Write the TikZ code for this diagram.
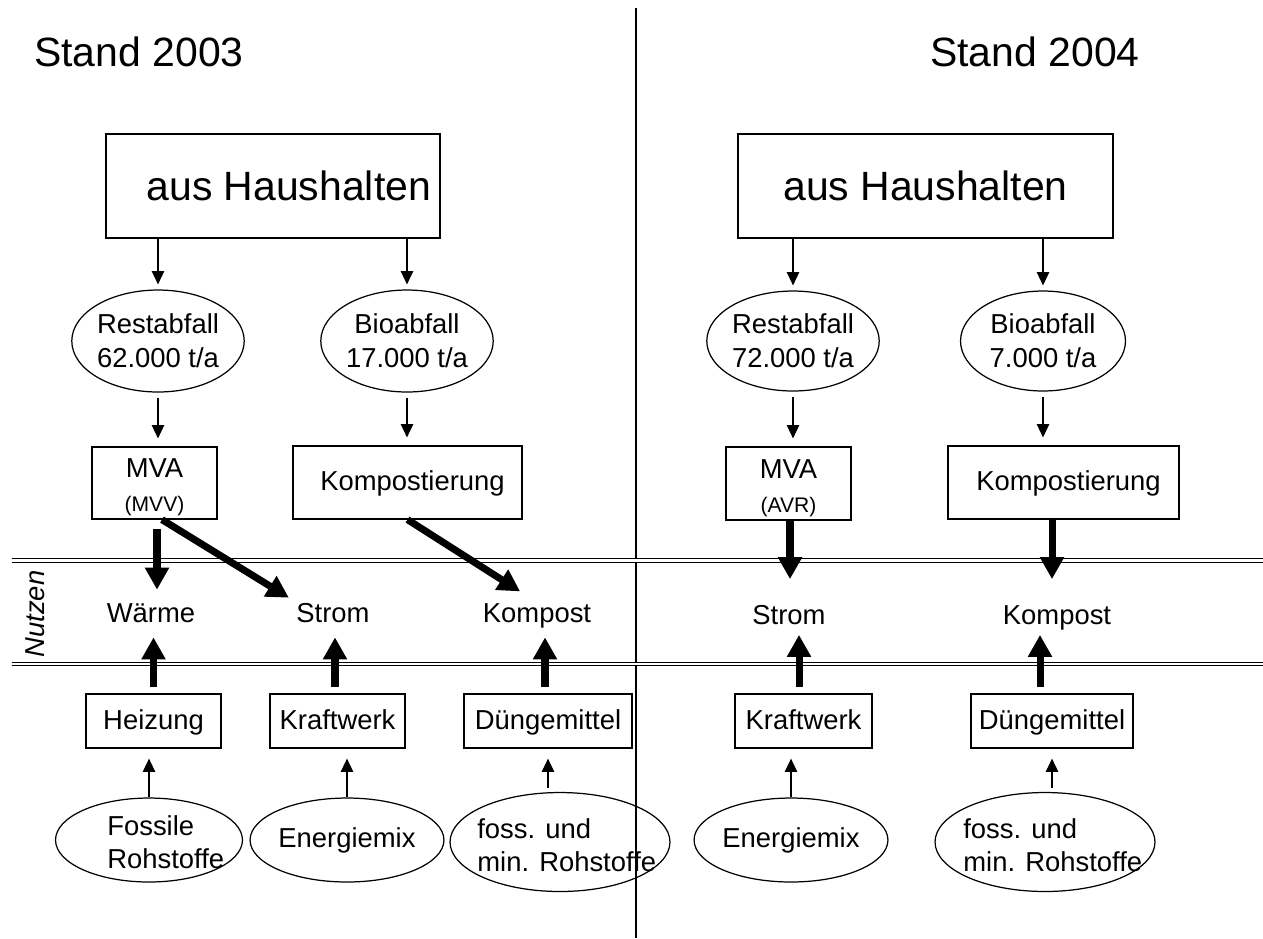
\documentclass[tikz,border=0pt]{standalone}
\usepackage{fontspec}
\setmainfont{Liberation Sans}
\usetikzlibrary{shapes.geometric, arrows.meta}

\begin{document}
\begin{tikzpicture}[x = 0.02cm, y = -0.02cm,
  big/.style = {font = \fontsize{23.3}{28}\selectfont},
  box/.style = {draw, line width = 0.7pt, inner sep = 0pt, align = center, font = \fontsize{15.6}{19.3}\selectfont},
  onebox/.style = {box, text height = 12pt, text depth = 2.6pt},
  oval/.style = {draw, ellipse, line width = 0.7pt, inner sep = 0pt, align = center, font = \fontsize{15.6}{19.3}\selectfont},
  ovaltext/.style = {anchor = west, inner sep = 0pt, align = left, font = \fontsize{15.6}{18.5}\selectfont},
  nutzen/.style = {inner sep = 0pt, text height = 0.4cm, text depth = 0.12cm, font = \fontsize{15.6}{19.3}\selectfont},
  flow/.style = {line width = 0.7pt, -{Triangle[width = 7pt, length = 7.5pt]}},
  bigflow/.style = {line width = 4pt, -{Triangle[width = 13pt, length = 12.5pt]}}]
\useasboundingbox (0,0) rectangle (1263,938);

\node[big] (stand1) at (139,52) {Stand 2003};
\node[big] (stand2) at (1035,52) {Stand 2004};

\draw[line width = 0.7pt] (636,8) -- (636,938);
\draw[line width = 0.6pt, double, double distance = 1.2pt] (12,560.5) -- (1263,560.5);
\draw[line width = 0.6pt, double, double distance = 1.2pt] (12,664) -- (1263,664);

\node[box, big, minimum width = 6.68cm, minimum height = 2.08cm] (haus1) at (273,186) {\hspace*{18pt}aus Haushalten};
\node[box, big, minimum width = 7.5cm, minimum height = 2.08cm] (haus2) at (925.5,186) {aus Haushalten};

\node[oval, minimum width = 3.36cm, minimum height = 2.04cm] (rest1) at (158,341) {Restabfall\\62.000 t/a};
\node[oval, minimum width = 3.36cm, minimum height = 2.04cm] (bio1) at (407,341) {Bioabfall\\17.000 t/a};
\node[oval, minimum width = 3.3cm, minimum height = 2.0cm] (rest2) at (793,341) {Restabfall\\72.000 t/a};
\node[oval, minimum width = 3.3cm, minimum height = 2.0cm] (bio2) at (1043,341) {Bioabfall\\7.000 t/a};

\node[box, minimum width = 2.5cm, minimum height = 1.44cm] (mva1) at (154.5,483) {\rule{0pt}{16pt}MVA\\{\fontsize{12}{14}\selectfont (MVV)}};
\node[onebox, minimum width = 4.58cm, minimum height = 1.46cm] (kompo1) at (407.5,482.5) {\hspace*{5.7pt}Kompostierung};
\node[box, minimum width = 2.5cm, minimum height = 1.46cm] (mva2) at (788.5,483.5) {\rule{0pt}{16pt}MVA\\{\fontsize{12}{14}\selectfont (AVR)}};
\node[onebox, minimum width = 4.62cm, minimum height = 1.46cm] (kompo2) at (1063.5,482.5) {\hspace*{5.7pt}Kompostierung};

\node[rotate = 90, inner sep = 0pt, font = \itshape\fontsize{15.6}{19}\selectfont] (nutzen) at (35,614) {Nutzen};
\node[nutzen] (waerme) at (151,615.5) {Wärme};
\node[nutzen] (strom1) at (333,615.5) {Strom};
\node[nutzen] (kompost1) at (537,615.5) {Kompost};
\node[nutzen] (strom2) at (789,617) {Strom};
\node[nutzen] (kompost2) at (1057,617) {Kompost};

\node[onebox, minimum width = 2.7cm, minimum height = 1.08cm] (heiz) at (153.5,721) {Heizung};
\node[onebox, minimum width = 2.7cm, minimum height = 1.08cm] (kraft1) at (337.5,721) {Kraftwerk};
\node[onebox, minimum width = 3.36cm, minimum height = 1.08cm] (duen1) at (548,721) {Düngemittel};
\node[onebox, minimum width = 2.74cm, minimum height = 1.08cm] (kraft2) at (803.5,721) {Kraftwerk};
\node[onebox, minimum width = 3.24cm, minimum height = 1.08cm] (duen2) at (1052,721) {Düngemittel};

\node[oval, minimum width = 3.74cm, minimum height = 1.68cm] (fossil) at (149,840) {};
\node[ovaltext] (fossiltext) at (107,842) {Fossile\\Rohstoffe};
\node[oval, minimum width = 3.76cm, minimum height = 1.68cm] (mix1) at (347,840) {Energiemix};
\node[oval, minimum width = 4.4cm, minimum height = 1.98cm] (fos1) at (560,842) {};
\node[ovaltext] (fos1text) at (477,845) {foss. und\\min. Rohstoffe};
\node[oval, minimum width = 3.76cm, minimum height = 1.68cm] (mix2) at (791,840) {Energiemix};
\node[oval, minimum width = 4.4cm, minimum height = 1.98cm] (fos2) at (1045,842) {};
\node[ovaltext] (fos2text) at (963,845) {foss. und\\min. Rohstoffe};

\draw[flow, shorten > = 0.1cm] (haus1.south -| rest1) -- (rest1.north);
\draw[flow, shorten > = 0.1cm] (haus1.south -| bio1) -- (bio1.north);
\draw[flow, shorten > = 0.1cm] (haus2.south -| rest2) -- (rest2.north);
\draw[flow, shorten > = 0.1cm] (haus2.south -| bio2) -- (bio2.north);

\draw[flow, shorten < = 0.1cm, shorten > = 0.16cm] (rest1.south) -- (rest1.south |- mva1.north);
\draw[flow, shorten < = 0.1cm, shorten > = 0.16cm] (bio1.south) -- (bio1.south |- kompo1.north);
\draw[flow, shorten < = 0.1cm, shorten > = 0.16cm] (rest2.south) -- (rest2.south |- mva2.north);
\draw[flow, shorten < = 0.1cm, shorten > = 0.16cm] (bio2.south) -- (bio2.south |- kompo2.north);

\draw[bigflow, shorten < = 0.18cm, shorten > = 0.25cm] ([xshift = 0.05cm]mva1.south) -- ([xshift = 0.05cm]mva1.south |- waerme.north);
\draw[bigflow, shorten > = 0.17cm] ([xshift = 0.15cm]mva1.south) -- (strom1.north west);
\draw[bigflow, shorten > = 0.4cm] (kompo1.south) -- (kompost1.north);
\draw[bigflow, shorten > = 0.49cm] ([xshift = 0.03cm]mva2.south) -- ([xshift = 0.03cm]mva2.south |- strom2.north);
\draw[bigflow, shorten > = 0.49cm] ([xshift = -0.23cm]kompo2.south) -- ([xshift = -0.23cm]kompo2.south |- kompost2.north);

\draw[bigflow, shorten < = 0.12cm, shorten > = 0.17cm] (heiz.north) -- (heiz.north |- waerme.south);
\draw[bigflow, shorten < = 0.12cm, shorten > = 0.17cm] ([xshift = -0.05cm]kraft1.north) -- ([xshift = -0.05cm]kraft1.north |- strom1.south);
\draw[bigflow, shorten < = 0.12cm, shorten > = 0.17cm] ([xshift = -0.06cm]duen1.north) -- ([xshift = -0.06cm]duen1.north |- kompost1.south);
\draw[bigflow, shorten < = 0.12cm, shorten > = 0.09cm] ([xshift = -0.09cm]kraft2.north) -- ([xshift = -0.09cm]kraft2.north |- strom2.south);
\draw[bigflow, shorten < = 0.12cm, shorten > = 0.09cm] ([xshift = -0.24cm]duen2.north) -- ([xshift = -0.24cm]duen2.north |- kompost2.south);

\draw[flow, shorten > = 0.2cm] (fossil.north) -- (fossil.north |- heiz.south);
\draw[flow, shorten > = 0.2cm] (mix1.north) -- (mix1.north |- kraft1.south);
\draw[flow, shorten < = 0.08cm, shorten > = 0.2cm] (duen1.south |- fos1.north) -- (duen1.south);
\draw[flow, shorten > = 0.2cm] (mix2.north) -- (mix2.north |- kraft2.south);
\draw[flow, shorten < = 0.08cm, shorten > = 0.2cm] (duen2.south |- fos2.north) -- (duen2.south);

\end{tikzpicture}
\end{document}
